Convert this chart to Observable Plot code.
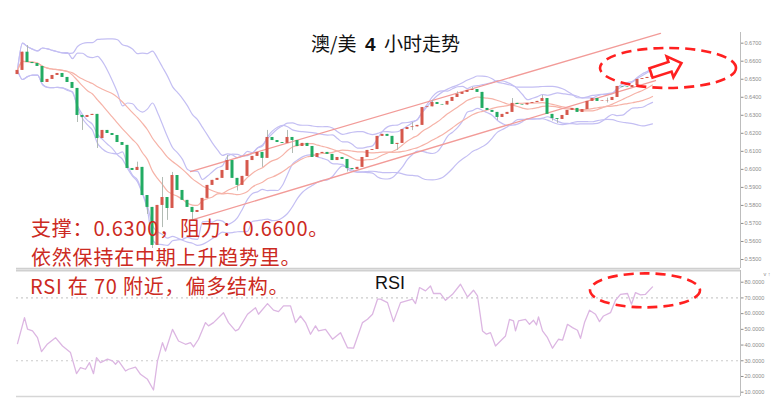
<!DOCTYPE html>
<html><head><meta charset="utf-8">
<script src="https://cdn.jsdelivr.net/npm/d3@7"></script>
<script src="https://cdn.jsdelivr.net/npm/@observablehq/plot@0.6"></script>
<style>
body{margin:0;background:#fff;}
#wrap{position:relative;width:773px;height:417px;overflow:hidden;background:#fff;}
#wrap svg{position:absolute;left:0;}
.note{position:absolute;color:#cc2a22;font-size:20px;letter-spacing:0.8px;white-space:nowrap;line-height:1;font-family:"Noto Sans CJK SC",sans-serif;}
#title{position:absolute;left:311px;top:33px;font-size:19px;line-height:1;color:#111;white-space:pre;font-family:"Noto Sans CJK SC",sans-serif;}
#rsiLabel{position:absolute;left:375px;top:274px;font-size:18px;line-height:1;color:#111;font-family:"Liberation Sans",Arial,sans-serif;}
</style></head><body><div id="wrap"></div>
<script>
// ---- data ----
const closes = [
 0.6549,0.6650,0.6593,0.6587,0.6571,0.6482,0.6499,0.6521,0.6532,0.6510,
 0.6482,0.6449,0.6299,0.6288,0.6299,0.6305,0.6171,0.6216,0.6199,0.6188,
 0.6149,0.6133,0.6005,0.5994,0.6011,0.5855,0.5789,0.5578,0.5800,0.5844,
 0.5783,0.5966,0.5883,0.5828,0.5789,0.5761,0.5772,0.5839,0.5911,0.5939,
 0.5950,0.5994,0.6049,0.5950,0.5911,0.5961,0.6049,0.6072,0.6094,0.6061,
 0.6177,0.6160,0.6149,0.6144,0.6177,0.6160,0.6127,0.6144,0.6127,0.6066,
 0.6088,0.6094,0.6083,0.6049,0.6066,0.6055,0.6005,0.5999,0.6011,0.6066,
 0.6105,0.6110,0.6183,0.6194,0.6183,0.6138,0.6144,0.6221,0.6232,0.6236,
 0.6244,0.6343,0.6347,0.6371,0.6360,0.6357,0.6377,0.6399,0.6416,0.6427,
 0.6438,0.6443,0.6427,0.6338,0.6327,0.6316,0.6288,0.6305,0.6316,0.6366,
 0.6360,0.6357,0.6366,0.6371,0.6377,0.6393,0.6305,0.6282,0.6277,0.6299,
 0.6327,0.6338,0.6316,0.6332,0.6377,0.6393,0.6377,0.6380,0.6382,0.6399,
 0.6460,0.6457,0.6454,0.6465,0.6499,0.6504,0.6510,0.6549];
const firstOpen = 0.6526;
// visible wicks: [candle, high, low]
const wicks = [
 [2,0.6687,null],[12,null,0.6260],[13,null,0.6216],[16,null,0.6116],[24,0.6040,null],
 [26,null,0.5750],[27,null,0.5561],[29,0.5955,0.5677],[30,null,0.5717],[31,0.5983,null],
 [35,null,0.5717],[42,0.6077,null],[44,null,0.5880],[49,null,0.6011],[50,0.6216,null],
 [54,0.6216,null],[55,null,0.6088],[66,null,0.5985],[76,null,0.6105],[79,0.6260,0.6215],
 [83,0.6382,null],[88,0.6430,null],[91,0.6455,null],[96,null,0.6271],[99,0.6393,null],
 [105,0.6410,null],[107,null,0.6268],[108,null,0.6255],[118,0.6395,0.6368]];
const rsiAt = [0,1.4,2,3,4,4.8,6,7.6,9,10.6,11.8,12.6,13.6,14.4,15.2,15.8,16.6,18,19,19.6,
 20.2,21.6,22.2,23.6,24.6,26,27.2,28,29,29.6,31,32.2,33.6,34.6,35.2,36.2,37.6,38.2,39.2,41.2,
 42.2,43.6,44.2,46,47.6,48.2,50,51.2,52.2,53.2,54.6,55.6,56.6,57.6,58.6,59.6,60.2,61.6,63,64.6,
 66,67.2,69,70,71,72,72.6,74,75.2,76.6,79,79.6,80.4,81.6,82.6,83.2,84.6,85.6,87,88.6,
 90,91.2,92,93,93.8,94.6,95.6,96.6,97.6,98.4,99.2,99.6,100.2,101.6,102.4,103.2,103.8,104.2,105,106,
 107,108.2,109,110,111,112,112.6,113.4,114.4,115.6,116.4,117.2,118.6,119.6,120.6,122,122.8,123.6,124.6,125.6,127];
const rsiValue = [40.9,57.5,50.2,49,44.7,35.8,40.7,44.7,39.4,35.2,21.8,25.6,24.6,28.8,21.8,32,28.8,31,29.9,27.8,
 29.9,23.5,24.6,26,21.4,18.2,11.4,29.9,41.5,36.2,50,42.6,40.5,41.5,38.8,43.7,54.3,52.2,54.3,60.6,
 54.3,49,50,59.6,63.8,59.6,66.4,62.2,61.3,64.9,64.9,54.3,58.5,54.3,46.9,52.2,49,50,43.7,47.9,
 38.3,38,54.3,56.4,59.6,69.2,69.2,67,54.9,67,69.2,66.4,76.6,74.5,77.6,72.8,72.8,68.5,72.3,78.7,
 70.6,74.9,71.3,49,46.9,47.9,39.4,42.6,45.8,56.4,55.4,49,55.4,56.4,53.2,55.8,52.8,57.9,49,44.7,
 38,43.7,43.1,53.2,51.1,49.4,44.3,54.3,62.2,59.6,54.9,58.5,60.6,68.5,72.3,72.8,66,73.4,71.9,72.3,77];
const priceTicks = [0.55,0.56,0.57,0.58,0.59,0.60,0.61,0.62,0.63,0.64,0.65,0.66,0.67];
const rsiTicks = [10,20,30,40,50,60,70,80];
const rsiLevels = [70,30];
const channelUpper = [[34.6,0.5988],[128.6,0.6754]];
const channelLower = [[34.6,0.5717],[127.6,0.6493]];
const mainCircle = [130.2,0.6560];
const arrowAt = [126.8,0.6532];
const rsiCircle = [125.6,74.5];

// ---- derived ----
const candles = closes.map((c,i)=>{
  const open = i ? closes[i-1] : firstOpen;
  let high = Math.max(open,c), low = Math.min(open,c);
  const w = wicks.find(d=>d[0]===i);
  if (w) { if (w[1]!=null) high = w[1]; if (w[2]!=null) low = w[2]; }
  return {i, open, close:c, high, low};
});
function bands(k, m){
  return closes.map((c,i)=>{
    const w = closes.slice(Math.max(0,i-k+1), i+1);
    const mean = d3.mean(w);
    const sd = Math.sqrt(d3.mean(w, v=>(v-mean)**2));
    return {i, mid:mean, up:mean+m*sd, lo:mean-m*sd};
  });
}
const bb10 = bands(10,2), bb20 = bands(20,2);
const rsi = rsiAt.map((a,j)=>({i:a, v:rsiValue[j]}));

const purple = "#c4bff3", pink = "#f6b3a8", chan = "#f29b98", red = "#d6584c", green = "#22ab63", hl = "#ff2020";
const xDomain = [-0.2, 144.6];
const NS = "http://www.w3.org/2000/svg";
function ellipseMark(c, rx, ry){
  return (index, scales) => {
    const e = document.createElementNS(NS,"ellipse");
    e.setAttribute("cx", scales.x(c[0])); e.setAttribute("cy", scales.y(c[1]));
    e.setAttribute("rx", rx); e.setAttribute("ry", ry);
    e.setAttribute("fill","none"); e.setAttribute("stroke",hl);
    e.setAttribute("stroke-width",2.6); e.setAttribute("stroke-dasharray","10,6");
    return e;
  };
}
function arrowMark(c){
  return (index, scales) => {
    const p = document.createElementNS(NS,"path");
    p.setAttribute("d","M0,-5L20,-5L20,-11L32,0L20,11L20,5L0,5Z");
    p.setAttribute("transform",`translate(${scales.x(c[0])},${scales.y(c[1])}) rotate(-18)`);
    p.setAttribute("fill","#fff"); p.setAttribute("stroke",hl);
    p.setAttribute("stroke-width",2.6); p.setAttribute("stroke-linejoin","miter");
    return p;
  };
}
const axisStyle = {anchor:"right", tickSize:2.5, tickPadding:1.5, fontSize:5.5, color:"#8c8c8c"};

const main = Plot.plot({
  width:773, height:269, marginTop:32, marginBottom:1, marginLeft:16, marginRight:33,
  x:{domain:xDomain, axis:null},
  y:{domain:[0.54501,0.67593], axis:null},
  style:{background:"transparent", fontFamily:"Liberation Sans, Arial, sans-serif", overflow:"visible"},
  marks:[
    Plot.line(bb20,{x:"i", y:"up", stroke:purple, strokeWidth:1.2, curve:"monotone-x"}),
    Plot.line(bb20,{x:"i", y:"lo", stroke:purple, strokeWidth:1.2, curve:"monotone-x"}),
    Plot.line(bb10,{x:"i", y:"up", stroke:purple, strokeWidth:1.2, curve:"monotone-x"}),
    Plot.line(bb10,{x:"i", y:"lo", stroke:purple, strokeWidth:1.2, curve:"monotone-x"}),
    Plot.line(bb20,{x:"i", y:"mid", stroke:pink, strokeWidth:1.2, curve:"monotone-x"}),
    Plot.line(bb10,{x:"i", y:"mid", stroke:pink, strokeWidth:1.2, curve:"monotone-x"}),
    Plot.line(channelUpper,{x:d=>d[0], y:d=>d[1], stroke:chan, strokeWidth:1.3}),
    Plot.line(channelLower,{x:d=>d[0], y:d=>d[1], stroke:chan, strokeWidth:1.3}),
    Plot.ruleX(candles,{x:"i", y1:"low", y2:"high", stroke:"#a9b3ab", strokeWidth:0.9}),
    Plot.rect(candles,{x1:d=>d.i-0.3, x2:d=>d.i+0.3, y1:"open", y2:"close", fill:d=>d.close>=d.open?red:green}),
    Plot.ruleX([xDomain[1]],{stroke:"#bdbdbd", strokeWidth:1}),
    Plot.ruleY([0.54501],{stroke:"#cfcfcf", strokeWidth:1.5}),
    Plot.axisY(priceTicks,{...axisStyle, tickFormat:d3.format(".4f")}),
    ellipseMark(mainCircle,68,20),
    arrowMark(arrowAt)
  ]
});
main.style.top = "0px";

const rsiPlot = Plot.plot({
  width:773, height:130, marginTop:1, marginBottom:3, marginLeft:16, marginRight:33,
  x:{domain:xDomain, axis:null},
  y:{domain:[7.26,87.45], axis:null},
  style:{background:"transparent", fontFamily:"Liberation Sans, Arial, sans-serif", overflow:"visible"},
  marks:[
    Plot.ruleY(rsiLevels,{stroke:"#cccccc", strokeWidth:1.2, strokeDasharray:"2,3"}),
    Plot.line(rsi,{x:"i", y:"v", stroke:"#dcb6e2", strokeWidth:1.3}),
    Plot.ruleX([xDomain[1]],{stroke:"#bdbdbd", strokeWidth:1}),
    Plot.ruleY([87.45],{stroke:"#d0d0d0", strokeWidth:2.2}),
    Plot.ruleY([7.26],{stroke:"#d6d6d6", strokeWidth:1.5}),
    Plot.axisY(rsiTicks,{...axisStyle, tickFormat:d3.format(".4f")}),
    ellipseMark(rsiCircle,55,17)
  ]
});
rsiPlot.style.top = "269px";

const wrap = document.getElementById("wrap");
wrap.appendChild(main);
wrap.appendChild(rsiPlot);
const add = (html, cls, id, left, top) => {
  const d = document.createElement("div");
  if (cls) d.className = cls; if (id) d.id = id;
  d.innerHTML = html;
  if (left != null) { d.style.left = left+"px"; d.style.top = top+"px"; }
  wrap.appendChild(d);
};
add("澳/美  <b style=\"font-family:'Liberation Sans',Arial,sans-serif\">4</b>  小时走势", null, "title");
add("RSI", null, "rsiLabel");
add("支撑：0.6300，阻力：0.6600。", "note", null, 31, 218);
add("依然保持在中期上升趋势里。", "note", null, 31, 247);
add("RSI 在 70 附近，偏多结构。", "note", null, 30, 276);
</script>
</body></html>
